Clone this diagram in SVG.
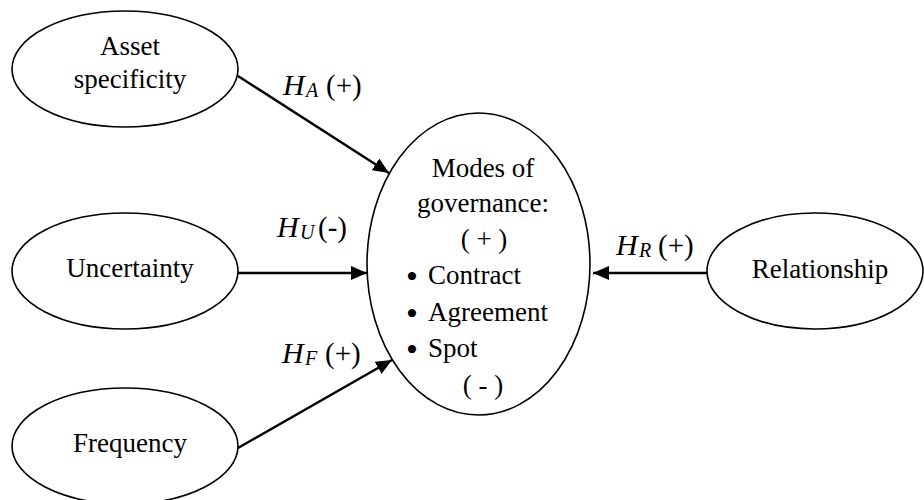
<svg xmlns="http://www.w3.org/2000/svg" width="924" height="500" viewBox="0 0 924 500">
<style>
.node ellipse{fill:#fff;stroke:#000;stroke-width:1.6}
text{font-family:"Liberation Serif","Times New Roman",serif;font-size:27px;fill:#000}
.c{text-anchor:middle}
.conn line{stroke:#000;stroke-width:2.4}
.h{font-style:italic;font-size:30px}
.sub{font-style:italic;font-size:20px}
.p{font-size:29px}
.b{font-size:34px}
</style>
<defs>
<marker id="arr" markerUnits="userSpaceOnUse" markerWidth="16" markerHeight="14" refX="16" refY="7" orient="auto">
<path d="M0,0 L16,7 L0,14 Z" fill="#000"/>
</marker>
</defs>
<rect width="924" height="500" fill="#fff"/>
<g id="asset" class="node">
<ellipse cx="125" cy="69" rx="113" ry="58"/>
<text class="c" x="130" y="55">Asset</text>
<text class="c" x="130" y="88">specificity</text>
</g>
<g id="uncertainty" class="node">
<ellipse cx="125" cy="271" rx="113" ry="58"/>
<text class="c" x="130" y="277">Uncertainty</text>
</g>
<g id="frequency" class="node">
<ellipse cx="125" cy="446" rx="113" ry="58"/>
<text class="c" x="130" y="452">Frequency</text>
</g>
<g id="relationship" class="node">
<ellipse cx="815" cy="271" rx="108" ry="58"/>
<text class="c" x="820" y="278">Relationship</text>
</g>
<g id="governance" class="node">
<ellipse cx="478.5" cy="264" rx="111.5" ry="151"/>
<text class="c" x="483" y="177">Modes of</text>
<text class="c" x="483" y="212">governance:</text>
<text class="c" x="484" y="248">( + )</text>
<text x="406" y="284"><tspan class="b" dy="4">•</tspan><tspan x="428" dy="-4">Contract</tspan></text>
<text x="406" y="321"><tspan class="b" dy="4">•</tspan><tspan x="428" dy="-4">Agreement</tspan></text>
<text x="406" y="357"><tspan class="b" dy="4">•</tspan><tspan x="428" dy="-4">Spot</tspan></text>
<text class="c" x="483" y="394">( - )</text>
</g>
<g id="connectors" class="conn">
<line x1="238" y1="76" x2="389" y2="173" marker-end="url(#arr)"/>
<line x1="237" y1="273" x2="367" y2="273" marker-end="url(#arr)"/>
<line x1="238" y1="448" x2="392" y2="360" marker-end="url(#arr)"/>
<line x1="707" y1="273" x2="593" y2="273" marker-end="url(#arr)"/>
</g>
<g id="labels">
<text x="283" y="95"><tspan class="h">H</tspan><tspan class="sub" x="306" dy="2">A</tspan><tspan class="p" x="326" dy="-2">(+)</tspan></text>
<text x="277" y="237"><tspan class="h">H</tspan><tspan class="sub" x="300" dy="2">U</tspan><tspan class="p" x="318" dy="-2">(-)</tspan></text>
<text x="282" y="363"><tspan class="h">H</tspan><tspan class="sub" x="305" dy="2">F</tspan><tspan class="p" x="325" dy="-2">(+)</tspan></text>
<text x="616" y="255"><tspan class="h">H</tspan><tspan class="sub" x="639" dy="2">R</tspan><tspan class="p" x="658" dy="-2">(+)</tspan></text>
</g>
</svg>
